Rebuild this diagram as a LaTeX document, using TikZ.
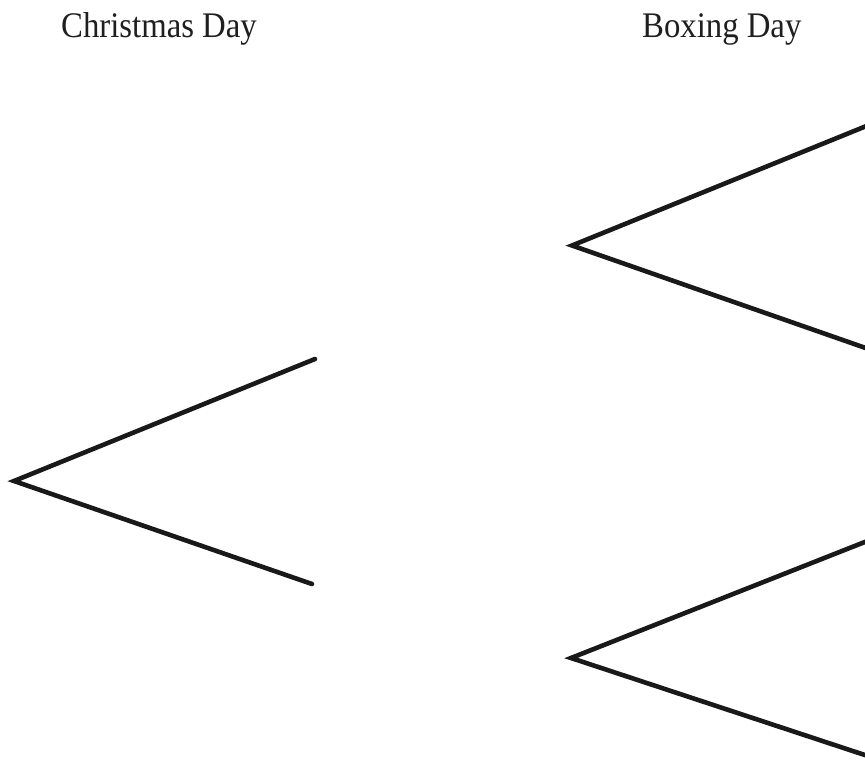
\documentclass[tikz,border=0pt]{standalone}
\usepackage{fontspec}
\setmainfont{Liberation Serif}[FakeStretch=0.91]
\begin{document}
\begin{tikzpicture}[x=1pt,y=-1pt,
  branch/.style={line width=4.6pt,color=black!90,line cap=round,line join=miter},
  heading/.style={inner sep=0pt,anchor=base west,font=\fontsize{36}{40}\selectfont,text=black!88}]
\useasboundingbox (0,0) rectangle (865,764);
\clip (0,0) rectangle (865,764);
% headings
\node[heading] (cd) at (61,37.3) {Christmas Day};
\node[heading] (bd) at (642,37.3) {Boxing Day};
% Christmas Day tree
\coordinate (r) at (14,481);
\coordinate (a) at (315,359);
\coordinate (b) at (312,584);
\draw[branch] (a) -- (r) -- (b);
% Boxing Day trees
\coordinate (s) at (572,245.5);
\coordinate (s1) at (880,120.5);
\coordinate (s2) at (880,353);
\draw[branch] (s1) -- (s) -- (s2);
\coordinate (t) at (571,658);
\coordinate (t1) at (880,536);
\coordinate (t2) at (880,760);
\draw[branch] (t1) -- (t) -- (t2);
\end{tikzpicture}
\end{document}
